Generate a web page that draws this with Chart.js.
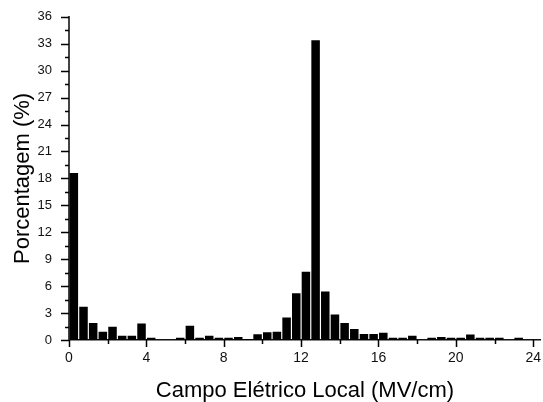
<!DOCTYPE html>
<html>
<head>
<meta charset="utf-8">
<script src="https://cdn.jsdelivr.net/npm/chart.js@4/dist/chart.umd.min.js"></script>
<style>
  body { margin: 0; background: #fff; }
  #myChart { display: block; }
</style>
</head>
<body>
<canvas id="myChart" width="543" height="402"></canvas>
<script>
// bin centers (MV/cm), bins are 0.5 wide
const binCenters = [];
for (let i = 0; i < 48; i++) binCenters.push(i * 0.5 + 0.25);

const percentages = [
    18.6, 3.7, 1.9, 0.92, 1.48, 0.48, 0.48, 1.85,
    0.26, 0, 0, 0.26, 1.6, 0.26, 0.48, 0.26,
    0.26, 0.33, 0.1, 0.63, 0.85, 0.92, 2.5, 5.2,
    7.6, 33.4, 5.4, 2.85, 1.9, 1.22, 0.67, 0.67,
    0.8, 0.26, 0.26, 0.48, 0, 0.26, 0.33, 0.26,
    0.26, 0.6, 0.26, 0.26, 0.26, 0, 0.26, 0
];

const xTicks = [0, 2, 4, 6, 8, 10, 12, 14, 16, 18, 20, 22, 24];
const yTicks = [];
for (let v = 0; v <= 36; v += 1.5) yTicks.push(v);

const fontFamily = 'Arial, "Liberation Sans", sans-serif';

// axis tick marks: long on labelled values, short in between
const tickMarks = {
    id: 'tickMarks',
    afterDraw(chart) {
        const ctx = chart.ctx;
        const xs = chart.scales.x;
        const ys = chart.scales.y;
        const area = chart.chartArea;
        ctx.save();
        ctx.strokeStyle = '#000';
        ctx.lineWidth = 1.5;
        ctx.beginPath();
        for (const v of xTicks) {
            const px = Math.round(xs.getPixelForValue(v)) + 0.5;
            const len = v % 4 === 0 ? 7 : 4;
            ctx.moveTo(px, area.bottom);
            ctx.lineTo(px, area.bottom + len);
        }
        for (const v of yTicks) {
            const py = Math.round(ys.getPixelForValue(v)) + 0.5;
            const len = v % 3 === 0 ? 8 : 4;
            ctx.moveTo(area.left, py);
            ctx.lineTo(area.left - len, py);
        }
        ctx.stroke();
        ctx.restore();
    }
};

const ctx = document.getElementById('myChart');

new Chart(ctx, {
    type: 'bar',
    data: {
        labels: binCenters,
        datasets: [{
            label: 'Porcentagem',
            data: binCenters.map((x, i) => ({ x: x, y: percentages[i] })),
            backgroundColor: '#000',
            borderWidth: 0,
            barPercentage: 0.88,
            categoryPercentage: 1
        }]
    },
    options: {
        responsive: false,
        animation: false,
        layout: { padding: { top: 15, right: 1, left: 0, bottom: 0 } },
        plugins: {
            legend: { display: false },
            tooltip: { enabled: false }
        },
        scales: {
            x: {
                type: 'linear',
                offset: false,
                min: 0,
                max: 24.4,
                grid: { display: false },
                border: { display: true, color: '#111', width: 1.5 },
                afterBuildTicks: (scale) => {
                    scale.ticks = xTicks.map((v) => ({ value: v }));
                },
                ticks: {
                    autoSkip: false,
                    maxRotation: 0,
                    padding: 2,
                    color: '#111',
                    font: { family: fontFamily, size: 14 },
                    callback: (v) => (v % 4 === 0 ? v : '')
                },
                title: {
                    display: true,
                    text: 'Campo Elétrico Local (MV/cm)',
                    color: '#000',
                    font: { family: fontFamily, size: 22, lineHeight: 1.05 },
                    padding: { top: 0, bottom: 0 }
                },
                afterFit: (scale) => { scale.height = 62; }
            },
            y: {
                min: 0,
                max: 36,
                grid: { display: false },
                border: { display: true, color: '#444', width: 2 },
                afterBuildTicks: (scale) => {
                    scale.ticks = yTicks.map((v) => ({ value: v }));
                },
                ticks: {
                    autoSkip: false,
                    padding: 9,
                    color: '#111',
                    font: { family: fontFamily, size: 13 },
                    callback: (v) => (v % 3 === 0 ? v : '')
                },
                title: {
                    display: true,
                    text: 'Porcentagem (%)',
                    color: '#000',
                    font: { family: fontFamily, size: 22 },
                    padding: { top: 10, bottom: 0 }
                },
                afterFit: (scale) => { scale.width = 69; }
            }
        }
    },
    plugins: [tickMarks]
});
</script>
</body>
</html>
